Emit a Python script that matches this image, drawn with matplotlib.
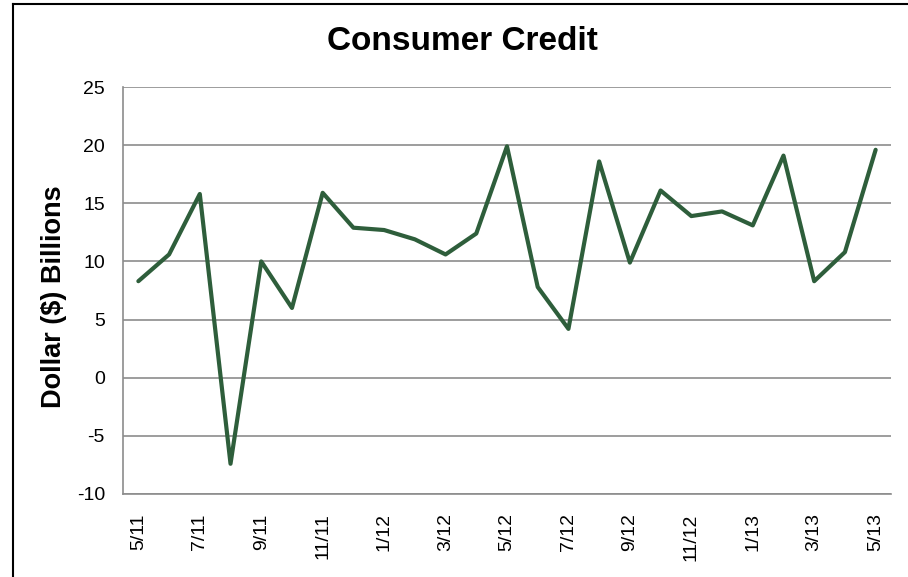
import matplotlib
matplotlib.use("Agg")
import matplotlib.pyplot as plt
from matplotlib.lines import Line2D

plt.rcParams["font.family"] = ["Liberation Sans", "DejaVu Sans"]

# Monthly change in consumer credit, 5/2011 – 5/2013
months = ["5/11", "6/11", "7/11", "8/11", "9/11", "10/11", "11/11", "12/11",
          "1/12", "2/12", "3/12", "4/12", "5/12", "6/12", "7/12", "8/12",
          "9/12", "10/12", "11/12", "12/12", "1/13", "2/13", "3/13", "4/13", "5/13"]
credit = [8.3, 10.6, 15.8, -7.4, 10.0, 6.0, 15.9, 12.9, 12.7, 11.9, 10.6, 12.4,
          19.9, 7.8, 4.2, 18.6, 9.9, 16.1, 13.9, 14.3, 13.1, 19.1, 8.3, 10.8, 19.6]
y_ticks = [-10, -5, 0, 5, 10, 15, 20, 25]

W, H = 908, 577
fig = plt.figure(figsize=(W / 100, H / 100), dpi=100)
ax = fig.add_axes([123 / W, 1 - 494 / H, 768 / W, 407 / H])

x = list(range(len(months)))
ax.plot(x, credit, color="#2E5E3B", lw=3, solid_joinstyle="round",
        solid_capstyle="round", zorder=3)

ax.set_xlim(-0.5, len(months) - 0.5)
ax.set_ylim(-10, 25)
ax.set_yticks(y_ticks)
ax.set_yticklabels([str(v) for v in y_ticks])
ax.set_xticks(x[::2])
ax.set_xticklabels(months[::2], rotation=90)
ax.tick_params(axis="both", length=0, labelsize=14)
ax.tick_params(axis="y", pad=13)
ax.tick_params(axis="x", pad=14)

ax.grid(axis="y", color="#8C8C8C", lw=1.2)
ax.set_axisbelow(True)
for side in ("top", "right"):
    ax.spines[side].set_visible(False)
for side in ("left", "bottom"):
    ax.spines[side].set_color("#8C8C8C")
    ax.spines[side].set_linewidth(1.2)

fig.text(462 / W, 1 - 42 / H, "Consumer Credit", ha="center", va="center",
         fontsize=24, fontweight="bold")
fig.text(54 / W, 1 - 297 / H, "Dollar ($) Billions", ha="center", va="center",
         rotation=90, fontsize=19.5, fontweight="bold")

# outer frame (left and top edges)
fig.add_artist(Line2D([13 / W, 13 / W], [0, 1 - 4 / H], color="black", lw=1.5))
fig.add_artist(Line2D([13 / W, 1], [1 - 4 / H, 1 - 4 / H], color="black", lw=1.5))

fig.savefig("out.png", dpi=100)
